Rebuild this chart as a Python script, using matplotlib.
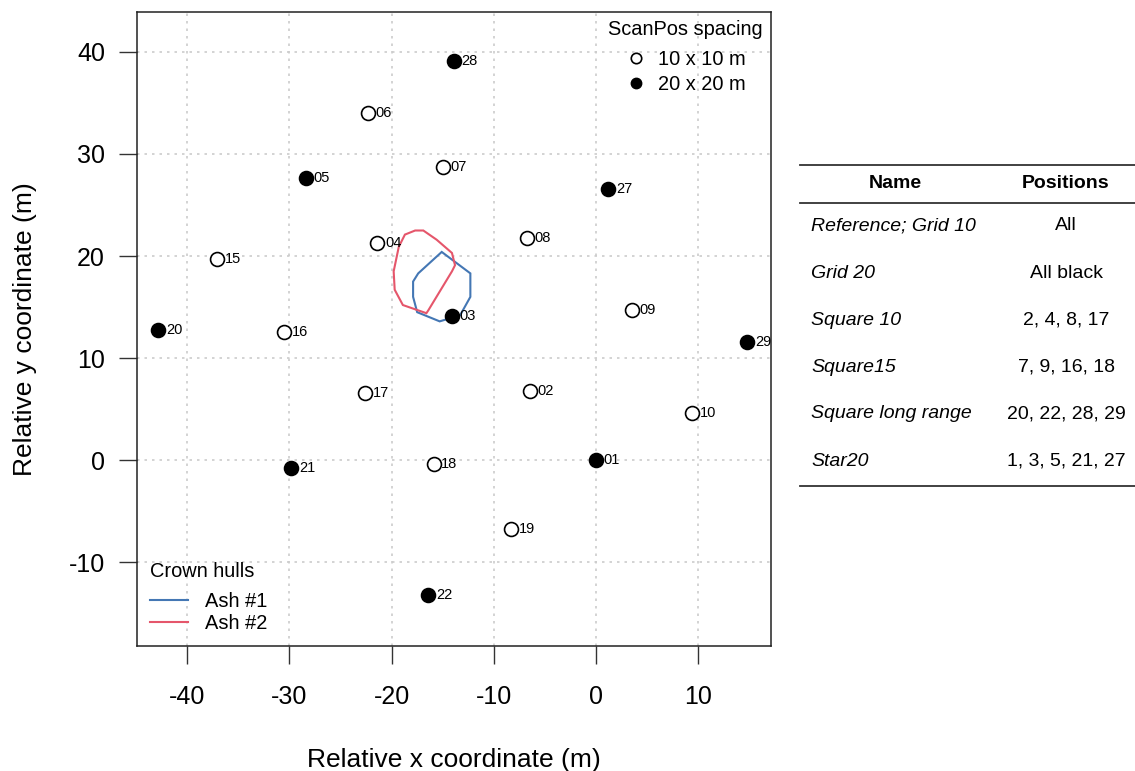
import numpy as np
import matplotlib
matplotlib.use("Agg")
import matplotlib.pyplot as plt
from matplotlib.lines import Line2D

plt.rcParams['font.family'] = ['Liberation Sans', 'DejaVu Sans']
plt.rcParams['axes.unicode_minus'] = False

# Scan positions (relative coordinates, m)
pos_ids = ["01", "02", "03", "04", "05", "06", "07", "08", "09", "10",
           "15", "16", "17", "18", "19", "20", "21", "22", "27", "28", "29"]
pos_x = [0.0, -6.5, -14.1, -21.4, -28.4, -22.3, -15.0, -6.8, 3.5, 9.4,
         -37.1, -30.5, -22.6, -15.9, -8.3, -42.8, -29.8, -16.4, 1.2, -13.9, 14.8]
pos_y = [0.0, 6.8, 14.1, 21.3, 27.6, 34.0, 28.7, 21.8, 14.7, 4.6,
         19.7, 12.6, 6.6, -0.4, -6.7, 12.8, -0.8, -13.2, 26.6, 39.1, 11.6]
# True = 20 x 20 m spacing (filled)
pos_grid20 = [True, False, True, False, True, False, False, False, False, False,
              False, False, False, False, False, True, True, True, True, True, True]

# Crown hulls
ash1_x = [-15.1, -12.3, -12.3, -13.3, -15.3, -17.5, -17.9, -17.9, -17.4]
ash1_y = [20.4, 18.3, 16.0, 14.2, 13.6, 14.5, 16.0, 17.5, 18.3]
ash2_x = [-18.7, -17.7, -16.9, -15.6, -14.1, -13.8, -14.1, -16.4, -16.6, -18.9, -19.7, -19.8, -19.3]
ash2_y = [22.1, 22.5, 22.5, 21.6, 20.3, 19.1, 18.5, 14.7, 14.4, 15.2, 16.7, 18.5, 20.9]

# Table
table_names = ["Reference; Grid 10", "Grid 20", "Square 10", "Square15",
               "Square long range", "Star20"]
table_positions = ["All", "All black", "2, 4, 8, 17", "7, 9, 16, 18",
                   "20, 22, 28, 29", "1, 3, 5, 21, 27"]

blue = "#4477B4"
red = "#E5566B"

fig = plt.figure(figsize=(11.35, 7.71), dpi=100)
ax = fig.add_axes([0.1207, 0.1621, 0.5586, 0.8223])

ax.set_xlim(-44.9, 17.1)
ax.set_ylim(-18.2, 43.9)
ax.set_xticks([-40, -30, -20, -10, 0, 10])
ax.set_yticks([-10, 0, 10, 20, 30, 40])
ax.grid(True, color="#cccccc", linestyle=(0, (1.5, 3)), linewidth=1.2)
ax.set_axisbelow(True)
ax.tick_params(direction="out", length=13, width=1, labelsize=18, color="#333333")
ax.tick_params(axis="x", pad=15)
ax.tick_params(axis="y", pad=10)
for sp in ax.spines.values():
    sp.set_linewidth(1.1)
    sp.set_color("#222222")

# hulls
ax.fill(ash1_x, ash1_y, facecolor="none", edgecolor=blue, linewidth=1.5, zorder=2)
ax.fill(ash2_x, ash2_y, facecolor="none", edgecolor=red, linewidth=1.5, zorder=2)

for pid, x, y, g in zip(pos_ids, pos_x, pos_y, pos_grid20):
    ax.plot(x, y, "o", markersize=10, markerfacecolor="black" if g else "white",
            markeredgecolor="black", markeredgewidth=1.2, zorder=3)
    ax.text(x + 0.75, y, pid, fontsize=10.5, va="center", ha="left", zorder=4)

ax.set_xlabel("Relative x coordinate (m)", fontsize=19, labelpad=28)
ax.set_ylabel("Relative y coordinate (m)", fontsize=19, labelpad=23)

# legends
h_spacing = [Line2D([], [], marker="o", linestyle="none", markersize=7.5,
                    markerfacecolor="white", markeredgecolor="black", markeredgewidth=1.2),
             Line2D([], [], marker="o", linestyle="none", markersize=7.5,
                    markerfacecolor="black", markeredgecolor="black")]
leg1 = ax.legend(h_spacing, ["10 x 10 m", "20 x 20 m"], title="ScanPos spacing",
                 loc="upper right", frameon=False, fontsize=14.4, title_fontsize=14.4,
                 handlelength=1.0, handletextpad=0.6, labelspacing=0.3,
                 borderaxespad=0.1, borderpad=0.3, alignment="center")
leg1._legend_box.sep = 8
ax.add_artist(leg1)

h_hull = [Line2D([], [], color=blue, linewidth=1.5),
          Line2D([], [], color=red, linewidth=1.5)]
leg2 = ax.legend(h_hull, ["Ash #1", "Ash #2"], title="Crown hulls", loc="lower left",
                 frameon=False, fontsize=14.4, title_fontsize=14.4, handlelength=1.9,
                 handletextpad=0.85, labelspacing=0.15, borderaxespad=0.25, alignment="left")
leg2._legend_box.sep = 8

# table at right
W, H = 1135.0, 771.0
def fx(px):
    return px / W
def fy(py):
    return 1 - py / H

x0, x1 = 800, 1135
for py in [165, 203, 486]:
    fig.add_artist(Line2D([fx(x0), fx(x1)], [fy(py), fy(py)], color="#333333", linewidth=1.3))
fig.text(fx(895), fy(184), "Name", fontsize=14, fontweight="bold", ha="center", va="center")
fig.text(fx(1066), fy(184), "Positions", fontsize=14, fontweight="bold", ha="center", va="center")
for i, (nm, ps) in enumerate(zip(table_names, table_positions)):
    py = 226 + i * 47
    fig.text(fx(811), fy(py), nm, fontsize=14, fontstyle="italic", ha="left", va="center")
    fig.text(fx(1066), fy(py), ps, fontsize=14, ha="center", va="center")

fig.savefig("out.png", dpi=100)
